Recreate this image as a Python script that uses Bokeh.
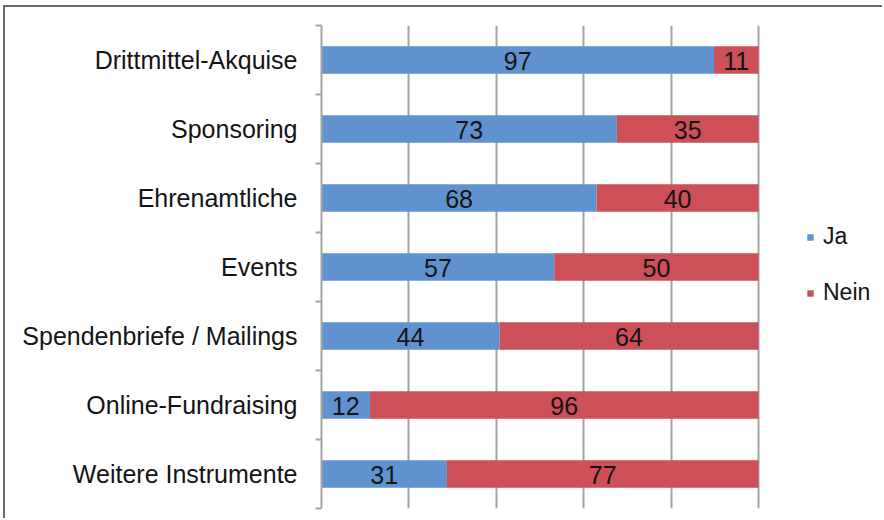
from bokeh.plotting import figure
from bokeh.models import Range1d, FixedTicker, Legend, LegendItem, ColumnDataSource
from bokeh.core.properties import value
from bokeh.embed import file_html
from bokeh.resources import INLINE

categories = ["Drittmittel-Akquise", "Sponsoring", "Ehrenamtliche", "Events",
              "Spendenbriefe / Mailings", "Online-Fundraising", "Weitere Instrumente"]
ja = [97, 73, 68, 57, 44, 12, 31]
nein = [11, 35, 40, 50, 64, 96, 77]
series_names = ["Ja", "Nein"]
x_ticks = [0, 20, 40, 60, 80, 100]

BLUE = "#6092cf"
RED = "#cd4f57"
GRID = "#a3a3a3"
FONT = "Liberation Sans"
TXT = "#141414"

pos = list(range(1, len(categories) + 1))
totals = [a + b for a, b in zip(ja, nein)]
ja_pct = [100.0 * a / t for a, t in zip(ja, totals)]
nein_pct = [100.0 * b / t for b, t in zip(nein, totals)]

src = ColumnDataSource(dict(
    y=pos, ja=ja, nein=nein, ja_pct=ja_pct, nein_pct=nein_pct,
    ja_mid=[v / 2 for v in ja_pct],
    nein_mid=[a + b / 2 for a, b in zip(ja_pct, nein_pct)],
    ja_txt=[str(v) for v in ja], nein_txt=[str(v) for v in nein],
    ja_end=ja_pct, full=[a + b for a, b in zip(ja_pct, nein_pct)],
))

# layout in pixels: canvas starts at x=5; bar area spans 321..758, frame extends to 884
W, H = 879, 513
left_px, bar_right_px, canvas_right_px = 316, 753, 879
x_end = 100.0 * (canvas_right_px - left_px) / (bar_right_px - left_px)

p = figure(width=W, height=H, output_backend="svg", toolbar_location=None,
           x_range=Range1d(0, x_end), y_range=Range1d(len(categories) + 0.5, 0.5),
           min_border_left=left_px, min_border_right=0, min_border_top=18, min_border_bottom=12)
p.styles = {"border-top": "2px solid #6a6a6a", "border-left": "2px solid #6a6a6a",
            "margin-top": "5px", "margin-left": "3px"}
p.outline_line_color = None
p.background_fill_color = "white"
p.border_fill_color = "white"

r_ja = p.hbar(y="y", left=0, right="ja_end", height=0.4, source=src,
              fill_color=BLUE, line_color=None)
r_nein = p.hbar(y="y", left="ja_end", right="full", height=0.4, source=src,
                fill_color=RED, line_color=None)

p.text(x="ja_mid", y="y", text="ja_txt", source=src, text_align="center",
       text_baseline="middle", text_font=value(FONT), text_font_size="25px",
       text_color=TXT, y_offset=1)
p.text(x="nein_mid", y="y", text="nein_txt", source=src, text_align="center",
       text_baseline="middle", text_font=value(FONT), text_font_size="25px",
       text_color=TXT, y_offset=1)

p.xaxis.visible = False
p.xgrid.ticker = FixedTicker(ticks=x_ticks)
p.xgrid.grid_line_color = GRID
p.xgrid.grid_line_width = 2
p.ygrid.grid_line_color = None

ax = p.yaxis[0]
ax.ticker = FixedTicker(ticks=pos, minor_ticks=[i + 0.5 for i in range(len(categories) + 1)])
ax.major_label_overrides = {i: c for i, c in zip(pos, categories)}
ax.major_tick_in = 0
ax.major_tick_out = 0
ax.minor_tick_in = 0
ax.minor_tick_out = 6
ax.minor_tick_line_color = GRID
ax.minor_tick_line_width = 2
ax.axis_line_color = GRID
ax.axis_line_width = 2
ax.major_label_standoff = 18
ax.major_label_text_font = FONT
ax.major_label_text_font_size = "25px"
ax.major_label_text_color = TXT

legend = Legend(items=[LegendItem(label=series_names[0], renderers=[r_ja]),
                       LegendItem(label=series_names[1], renderers=[r_nein])],
                location=(485, 202), orientation="vertical",
                glyph_width=8, glyph_height=8, label_height=20, spacing=29,
                label_standoff=9, padding=0, margin=0,
                label_text_font=FONT, label_text_font_size="23px",
                label_text_color=TXT, border_line_color=None,
                background_fill_alpha=0)
p.add_layout(legend, "center")

open("out.html", "w").write(file_html(p, INLINE))
